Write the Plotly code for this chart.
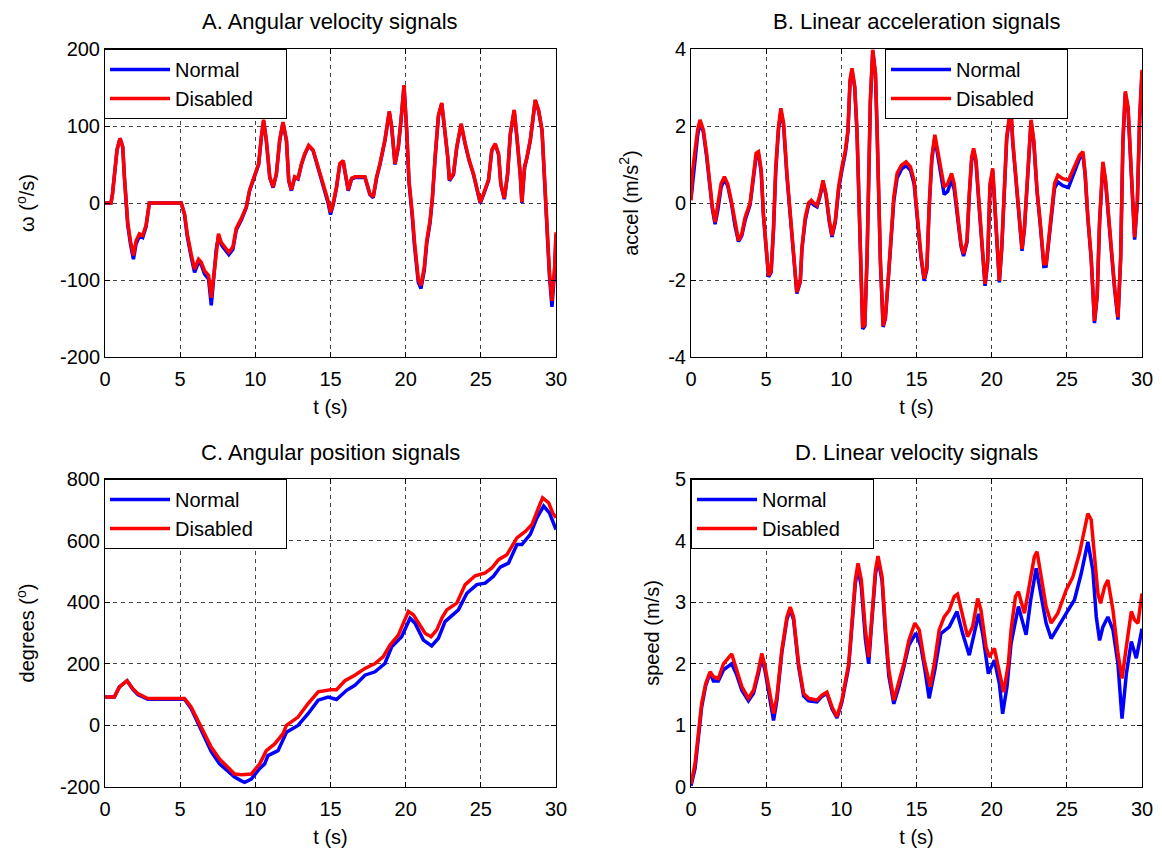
import plotly.graph_objects as go

# ---------------- Panel A: angular velocity (deg/s) ----------------
t_A = [0, 0.4, 0.5, 0.62, 0.8, 1.0, 1.18, 1.29, 1.51, 1.69, 1.89, 2.07, 2.29, 2.51, 2.73, 2.95,
       5.07, 5.29, 5.47, 5.73, 5.96, 6.22, 6.4, 6.62, 6.89, 7.07, 7.24, 7.4, 7.55, 7.73, 7.96, 8.24,
       8.51, 8.73, 9.07, 9.4, 9.62, 9.96, 10.22, 10.4, 10.55, 10.73, 10.96, 11.18, 11.4, 11.62, 11.84,
       12.07, 12.22, 12.4, 12.62, 12.84, 13.07, 13.29, 13.55, 13.84, 14.18, 14.51, 14.84, 15.0,
       15.18, 15.4, 15.62, 15.84, 16.0, 16.18, 16.4, 16.62, 17.29, 17.62, 17.84, 18.07, 18.29, 18.62,
       18.91, 19.07, 19.29, 19.51, 19.69, 19.89, 20.07, 20.22, 20.44, 20.58, 20.84, 21.02, 21.24,
       21.4, 21.62, 21.78, 21.96, 22.18, 22.4, 22.62, 22.8, 22.91, 23.18, 23.4, 23.69, 23.96, 24.22,
       24.51, 24.73, 24.96, 25.18, 25.51, 25.73, 25.96, 26.18, 26.33, 26.56, 26.78, 26.96, 27.22,
       27.4, 27.62, 27.73, 27.91, 28.07, 28.29, 28.62, 28.84, 29.07, 29.29, 29.4, 29.56, 29.73,
       29.91, 30.0]
disabled_A = [0, 0, 12, 38, 69, 84, 73, 34, -25, -49, -68, -49, -40, -42, -29, 0,
              0, -14, -40, -66, -86, -73, -77, -88, -94, -123, -92, -57, -40, -51, -57, -64,
              -57, -33, -20, -5, 17, 36, 51, 86, 108, 82, 34, 21, 38, 82, 105,
              82, 30, 17, 34, 32, 51, 64, 75, 69, 47, 25, 3, -12,
              0, 21, 51, 55, 34, 17, 32, 34, 34, 12, 8, 34, 51, 82,
              119, 99, 51, 73, 108, 153, 95, 30, -14, -49, -99, -107, -83,
              -49, -23, 8, 60, 114, 130, 95, 60, 30, 38, 73, 103, 77, 56,
              38, 21, 1, 12, 30, 69, 77, 64, 25, 6, 38, 90, 121,
              86, 38, 1, 47, 60, 82, 134, 121, 95, 3, -44, -88, -127,
              -83, -38]
normal_A = [0, 0, 12, 38, 69, 84, 73, 34, -28, -53, -73, -53, -43, -45, -31, 0,
            0, -15, -43, -70, -90, -77, -80, -92, -99, -133, -97, -60, -43, -54, -60, -67,
            -60, -35, -22, -6, 16, 35, 50, 85, 107, 81, 33, 20, 37, 81, 104,
            81, 29, 16, 33, 31, 50, 63, 74, 68, 45, 23, 0, -15,
            -2, 20, 50, 54, 33, 16, 31, 33, 33, 11, 7, 33, 50, 81,
            118, 98, 50, 72, 107, 152, 93, 27, -18, -54, -103, -111, -87,
            -53, -26, 6, 59, 113, 129, 94, 59, 29, 37, 72, 102, 76, 55,
            37, 20, 0, 11, 29, 68, 76, 63, 24, 5, 37, 89, 120,
            85, 37, 0, 46, 59, 81, 133, 120, 94, 0, -50, -94, -135,
            -88, -42]

# ---------------- Panel B: linear acceleration (m/s^2) ----------------
t_B = [0, 0.09, 0.27, 0.44, 0.6, 0.82, 1.04, 1.27, 1.42, 1.6, 1.78, 2.0, 2.22, 2.44, 2.71, 2.93,
       3.16, 3.38, 3.6, 3.93, 4.16, 4.33, 4.49, 4.67, 4.82, 4.98, 5.16, 5.33, 5.49, 5.64, 5.82,
       5.98, 6.16, 6.38, 6.6, 6.82, 7.04, 7.27, 7.38, 7.6, 7.82, 8.0, 8.16, 8.38, 8.6, 8.78, 8.98,
       9.2, 9.38, 9.6, 9.82, 10.04, 10.27, 10.44, 10.58, 10.71, 10.89, 11.04, 11.16, 11.27, 11.42,
       11.56, 11.71, 11.82, 11.93, 12.09, 12.27, 12.38, 12.49, 12.6, 12.78, 12.93, 13.11, 13.27,
       13.49, 13.71, 14.0, 14.31, 14.6, 14.84, 15.07, 15.29, 15.51, 15.69, 15.84, 16.02, 16.22,
       16.4, 16.62, 16.84, 17.07, 17.33, 17.51, 17.73, 17.96, 18.13, 18.36, 18.51, 18.67, 18.8,
       18.96, 19.18, 19.4, 19.56, 19.73, 19.89, 20.07, 20.2, 20.36, 20.51, 20.67, 20.84, 21.0,
       21.18, 21.29, 21.4, 21.62, 21.84, 22.02, 22.18, 22.36, 22.51, 22.62, 22.8, 23.02, 23.24,
       23.47, 23.62, 23.78, 23.96, 24.18, 24.4, 24.73, 25.11, 25.51, 25.84, 26.07, 26.22, 26.4,
       26.62, 26.84, 27.02, 27.18, 27.4, 27.58, 27.78, 27.96, 28.18, 28.4, 28.58, 28.73, 28.89,
       29.07, 29.22, 29.4, 29.51, 29.69, 29.84, 30.0]
disabled_B = [0.07, 0.77, 1.37, 1.9, 2.16, 1.9, 1.29, 0.42, -0.1, -0.5, -0.1, 0.5, 0.68, 0.5, 0.0, -0.54,
              -0.97, -0.8, -0.37, 0.0, 0.77, 1.29, 1.33, 0.85, -0.28, -1.15, -1.89, -1.76, -0.63, 0.94, 1.98,
              2.46, 2.07, 0.77, -0.28, -1.41, -2.32, -2.02, -1.15, -0.37, 0.0, 0.07, 0.0, -0.06, 0.24, 0.59, 0.24,
              -0.45, -0.84, -0.45, 0.42, 0.94, 1.37, 1.9, 3.2, 3.5, 3.03, 1.9, 0.33, -1.41, -3.23,
              -3.15, -1.41, 0.59, 2.68, 3.98, 3.37, 1.9, 0.16, -1.5, -3.19, -2.97, -2.02, -1.15,
              0.16, 0.77, 0.98, 1.07, 0.94, 0.59, -0.37, -1.32, -1.97, -1.67, -0.1, 1.2, 1.77,
              1.37, 0.85, 0.42, 0.5, 0.77, 0.5, -0.28, -1.06, -1.32, -0.97, 0.24, 1.2, 1.42,
              1.11, -0.1, -1.32, -2.1, -1.5, 0.5, 0.9, 0.07, -0.97, -2.02, -1.15, 0.33, 1.72,
              2.24, 2.4, 1.63, 0.59, -0.45, -1.19, -0.63, 0.59, 1.72, 2.16, 1.63, 0.33, -0.54,
              -1.58, -1.58, -0.97, -0.19, 0.5, 0.72, 0.63, 0.59, 0.94, 1.24, 1.33, 0.77, -0.37,
              -1.41, -3.06, -2.37, -0.45, 1.07, 0.59, -0.37, -1.15, -2.19, -2.97, -1.41, 1.63, 2.9,
              2.5, 1.29, -0.19, -0.89, 0.07, 2.16, 3.46]
normal_B = [0.1, 0.45, 1.1, 1.75, 2.1, 1.85, 1.2, 0.35, -0.15, -0.55, -0.2, 0.4, 0.62, 0.45, -0.05, -0.6,
            -1.0, -0.85, -0.45, -0.05, 0.7, 1.2, 1.28, 0.8, -0.35, -1.2, -1.92, -1.8, -0.7, 0.85, 1.9,
            2.4, 2.0, 0.7, -0.35, -1.45, -2.35, -2.05, -1.2, -0.45, -0.05, 0.02, -0.05, -0.1, 0.2, 0.55, 0.2,
            -0.5, -0.88, -0.5, 0.35, 0.85, 1.3, 1.85, 3.15, 3.45, 3.0, 1.85, 0.3, -1.45, -3.27,
            -3.2, -1.45, 0.55, 2.62, 3.95, 3.33, 1.85, 0.1, -1.55, -3.22, -3.0, -2.05, -1.2,
            0.05, 0.65, 0.88, 0.97, 0.85, 0.5, -0.45, -1.4, -2.02, -1.72, -0.15, 1.12, 1.7,
            1.3, 0.72, 0.22, 0.3, 0.6, 0.35, -0.38, -1.12, -1.38, -1.02, 0.18, 1.12, 1.36,
            1.05, -0.18, -1.38, -2.15, -1.55, 0.42, 0.84, 0.0, -1.02, -2.06, -1.2, 0.28, 1.66,
            2.2, 2.36, 1.58, 0.52, -0.5, -1.24, -0.68, 0.52, 1.66, 2.12, 1.58, 0.28, -0.6,
            -1.65, -1.64, -1.02, -0.25, 0.38, 0.55, 0.45, 0.4, 0.8, 1.15, 1.26, 0.72, -0.42,
            -1.46, -3.12, -2.42, -0.5, 1.02, 0.52, -0.43, -1.2, -2.25, -3.03, -1.46, 1.58, 2.85,
            2.45, 1.22, -0.25, -0.95, 0.0, 2.1, 3.4]

# ---------------- Panel C: angular position (deg) ----------------
t_C_disabled = [0, 0.62, 0.96, 1.47, 1.84, 2.18, 2.84, 5.29, 5.73, 6.18, 6.62, 7.07, 7.62, 8.18, 8.62,
                9.07, 9.73, 10.29, 10.73, 11.29, 11.84, 12.07, 12.84, 13.51, 14.18, 15.0, 15.4, 15.96,
                16.62, 17.29, 17.96, 18.51, 18.96, 19.51, 19.84, 20.18, 20.51, 20.96, 21.29, 21.69,
                22.07, 22.4, 22.73, 23.4, 23.96, 24.62, 25.29, 25.73, 26.18, 26.73, 27.4, 27.96,
                28.4, 28.84, 29.11, 29.51, 29.78, 30.0]
disabled_C = [92, 92, 125, 145, 120, 103, 87, 87, 60, 16, -27, -71, -109, -136, -158,
              -160, -158, -125, -82, -60, -27, 0, 27, 71, 109, 116, 116, 145,
              163, 185, 201, 223, 261, 293, 332, 370, 359, 326, 299, 288,
              310, 348, 375, 397, 457, 486, 495, 511, 538, 554, 609, 630,
              652, 707, 739, 723, 690, 674]
t_C_normal = [0, 0.62, 0.96, 1.47, 1.84, 2.18, 2.84, 5.29, 5.73, 6.18, 6.62, 7.07, 7.62, 8.18, 8.62,
              9.07, 9.29, 9.73, 10.29, 10.62, 10.84, 11.51, 12.07, 12.84, 13.51, 14.18, 14.84, 15.4,
              16.07, 16.62, 17.29, 17.96, 18.62, 19.07, 19.73, 20.29, 20.62, 21.18, 21.73, 22.18,
              22.62, 23.51, 24.07, 24.73, 25.29, 25.84, 26.29, 26.84, 27.4, 27.73, 28.29, 28.73,
              29.18, 29.56, 30.0]
normal_C = [92, 92, 125, 145, 118, 100, 85, 85, 55, 8, -38, -85, -125, -150, -168,
            -180, -185, -174, -140, -125, -98, -82, -22, 0, 38, 82, 92, 84,
            114, 130, 163, 174, 201, 255, 288, 348, 332, 277, 258, 283,
            337, 375, 429, 457, 462, 484, 514, 527, 587, 587, 620, 674,
            712, 690, 636]

# ---------------- Panel D: linear velocity (m/s) ----------------
t_D_disabled = [0, 0.27, 0.49, 0.71, 0.98, 1.27, 1.49, 1.82, 2.16, 2.71, 3.04, 3.38, 3.82, 4.16, 4.49,
                4.71, 4.93, 5.27, 5.49, 5.71, 6.04, 6.38, 6.6, 6.82, 7.16, 7.49, 7.82, 8.38, 8.71,
                9.04, 9.38, 9.71, 10.04, 10.49, 10.71, 10.93, 11.11, 11.33, 11.6, 11.82, 12.0, 12.27,
                12.44, 12.71, 12.93, 13.16, 13.49, 13.82, 14.16, 14.49, 14.89, 15.18, 15.51, 15.91,
                16.18, 16.51, 16.84, 17.18, 17.51, 17.73, 18.07, 18.4, 18.73, 19.07, 19.29, 19.62,
                19.84, 20.18, 20.44, 20.8, 21.11, 21.29, 21.58, 21.78, 22.18, 22.51, 22.84, 23.02,
                23.29, 23.62, 23.96, 24.4, 24.96, 25.4, 25.84, 26.18, 26.4, 26.62, 26.84, 27.07,
                27.24, 27.51, 27.73, 28.07, 28.4, 28.67, 28.96, 29.29, 29.51, 29.73, 30.0]
disabled_D = [0.05, 0.38, 0.87, 1.36, 1.68, 1.87, 1.79, 1.76, 2.0, 2.16, 1.9, 1.63, 1.44, 1.57, 1.9,
              2.17, 1.95, 1.46, 1.19, 1.46, 2.22, 2.76, 2.92, 2.76, 2.0, 1.52, 1.44, 1.41, 1.49,
              1.54, 1.3, 1.14, 1.41, 2.0, 2.71, 3.36, 3.63, 3.36, 2.55, 2.11, 2.66, 3.52,
              3.75, 3.41, 2.6, 1.9, 1.41, 1.68, 2.0, 2.38, 2.66, 2.55, 2.06, 1.63,
              2.0, 2.55, 2.76, 2.87, 3.09, 3.13, 2.76, 2.44, 2.6, 3.06, 2.87, 2.28,
              2.11, 2.25, 1.95, 1.54, 2.0, 2.55, 3.09, 3.17, 2.82, 3.31, 3.74, 3.82,
              3.41, 2.93, 2.66, 2.82, 3.2, 3.41, 3.79, 4.15, 4.44, 4.34, 3.79, 3.14,
              2.98, 3.25, 3.36, 2.87, 2.17, 1.76, 2.28, 2.85, 2.71, 2.66, 3.14]
t_D_normal = [0, 0.27, 0.49, 0.71, 0.98, 1.27, 1.49, 1.82, 2.16, 2.71, 3.04, 3.38, 3.82, 4.16, 4.49,
              4.71, 4.93, 5.27, 5.49, 5.71, 6.04, 6.38, 6.6, 6.82, 7.16, 7.49, 7.82, 8.38, 8.71,
              9.04, 9.38, 9.71, 10.04, 10.49, 10.71, 10.93, 11.11, 11.33, 11.6, 11.82, 12.0, 12.27,
              12.44, 12.71, 12.93, 13.16, 13.49, 13.82, 14.16, 14.49, 14.96, 15.29, 15.56, 15.84,
              16.22, 16.62, 17.18, 17.69, 18.07, 18.51, 18.84, 19.13, 19.4, 19.78, 20.18, 20.51,
              20.73, 21.02, 21.29, 21.78, 22.29, 22.6, 22.96, 23.29, 23.62, 23.96, 24.4, 24.96,
              25.51, 25.96, 26.4, 26.73, 26.96, 27.18, 27.4, 27.73, 28.07, 28.4, 28.67, 28.96,
              29.29, 29.62, 30.0]
normal_D = [0.02, 0.3, 0.8, 1.3, 1.65, 1.85, 1.72, 1.72, 1.9, 2.0, 1.82, 1.57, 1.4, 1.52, 1.85,
            2.1, 1.88, 1.35, 1.08, 1.4, 2.18, 2.72, 2.88, 2.72, 1.95, 1.48, 1.4, 1.38, 1.47,
            1.52, 1.27, 1.12, 1.38, 1.95, 2.65, 3.3, 3.55, 3.25, 2.4, 2.0, 2.6, 3.45,
            3.7, 3.35, 2.5, 1.8, 1.35, 1.62, 1.95, 2.3, 2.5, 2.28, 1.9, 1.44,
            1.9, 2.49, 2.6, 2.85, 2.49, 2.14, 2.49, 2.81, 2.49, 1.84, 2.06, 1.68,
            1.19, 1.63, 2.33, 2.93, 2.47, 3.04, 3.55, 3.14, 2.66, 2.41, 2.6, 2.82,
            3.04, 3.47, 3.98, 3.52, 2.76, 2.38, 2.6, 2.76, 2.55, 2.0, 1.11, 1.84,
            2.36, 2.09, 2.57]

titles = ["A. Angular velocity signals", "B. Linear acceleration signals",
          "C. Angular position signals", "D. Linear velocity signals"]
ylabels = ["ω (<sup>o</sup>/s)", "accel (m/s<sup>2</sup>)", "degrees (<sup>o</sup>)", "speed (m/s)"]
xlabel = "t (s)"
series_names = ["Normal", "Disabled"]
x_ticks = [0, 5, 10, 15, 20, 25, 30]
y_ticks = [[-200, -100, 0, 100, 200], [-4, -2, 0, 2, 4],
           [-200, 0, 200, 400, 600, 800], [0, 1, 2, 3, 4, 5]]
yranges = [[-200, 200], [-4, 4], [-200, 800], [0, 5]]

# the page body has an 8px margin, so the figure is placed at (8, 8)
OFF = 8
W, H = 1162 - OFF, 851 - OFF
FONT = "Liberation Sans, Arial, Helvetica, sans-serif"

# plot boxes in screen pixels: (left, right, top, bottom)
boxes = [(105, 556, 49, 357), (691, 1142, 49, 357),
         (105, 556, 479, 787), (691, 1142, 479, 787)]
legend_pos = [(104, 49), (885, 49), (104, 479), (691, 479)]
ytitle_standoff = [19, 24, 19, 9]

panels = [
    (t_A, normal_A, t_A, disabled_A),
    (t_B, normal_B, t_B, disabled_B),
    (t_C_normal, normal_C, t_C_disabled, disabled_C),
    (t_D_normal, normal_D, t_D_disabled, disabled_D),
]


def px(x):
    return (x - OFF) / W


def py(y):
    return 1 - (y - OFF) / H


fig = go.Figure()
layout = dict(
    width=W, height=H, margin=dict(l=0, r=0, t=0, b=0, autoexpand=False),
    paper_bgcolor="white", plot_bgcolor="white",
    font=dict(family=FONT, size=20, color="black"),
    showlegend=True,
)
annotations = []
pad = "\u00a0" * 5
for i, (tn, yn, td, yd) in enumerate(panels):
    k = "" if i == 0 else str(i + 1)
    leg = "legend" if i == 0 else "legend" + str(i + 1)
    fig.add_trace(go.Scatter(x=tn, y=yn, mode="lines", name=series_names[0] + pad,
                             line=dict(color="#0000ff", width=3.5),
                             xaxis="x" + k, yaxis="y" + k, legend=leg))
    fig.add_trace(go.Scatter(x=td, y=yd, mode="lines", name=series_names[1] + pad,
                             line=dict(color="#ff0000", width=3.5),
                             xaxis="x" + k, yaxis="y" + k, legend=leg))
    l, r, t, b = boxes[i]
    common = dict(showline=True, linecolor="black", linewidth=1, mirror="ticks",
                  ticks="inside", ticklen=5, tickcolor="black", zeroline=False,
                  showgrid=True, gridcolor="#444444", gridwidth=1, griddash="4px,4px",
                  tickfont=dict(size=20), automargin=False)
    layout["xaxis" + k] = dict(common, domain=[px(l), px(r)], anchor="y" + k,
                               range=[0, 30], tickmode="array", tickvals=x_ticks,
                               ticktext=[str(v) for v in x_ticks], ticklabelstandoff=4,
                               title=dict(text=xlabel, font=dict(size=20), standoff=10))
    layout["yaxis" + k] = dict(common, domain=[py(b), py(t)], anchor="x" + k,
                               range=yranges[i], tickmode="array", tickvals=y_ticks[i],
                               ticktext=[str(v) for v in y_ticks[i]],
                               title=dict(text=ylabels[i], font=dict(size=20),
                                          standoff=ytitle_standoff[i]))
    lx, ly = legend_pos[i]
    layout[leg] = dict(x=px(lx), y=py(ly), xanchor="left", yanchor="top",
                       bgcolor="white", bordercolor="black", borderwidth=1,
                       font=dict(size=20), itemwidth=60, tracegroupgap=0)
    annotations.append(dict(text=titles[i], x=px((l + r) / 2), y=py(t - 27),
                            xref="paper", yref="paper", showarrow=False,
                            xanchor="center", yanchor="middle", font=dict(size=22)))
layout["annotations"] = annotations
fig.update_layout(**layout)
fig.write_html("out.html")
